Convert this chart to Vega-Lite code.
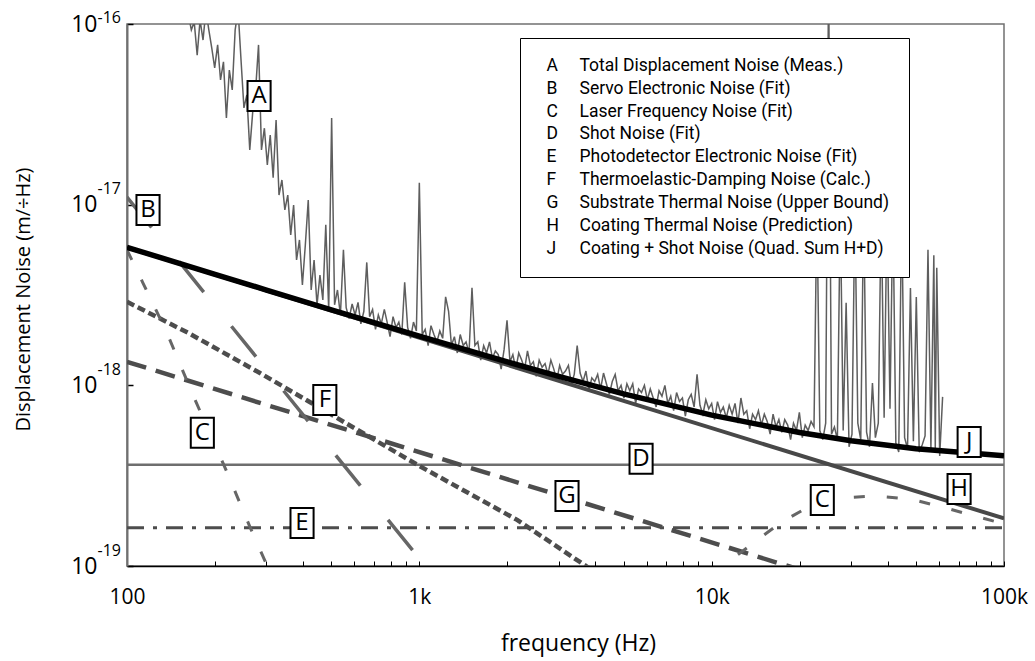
{
"$schema": "https://vega.github.io/schema/vega-lite/v6.json",
"width": 877, "height": 542,
"autosize": "none",
"padding": {"left": 127, "top": 24, "right": 31, "bottom": 95},
"background": "white",
"config": {"view": {"stroke": "#707070", "strokeWidth": 1.5}, "font": "Open Sans"},
"datasets": {
"lines": [
{"s":"J","f":100,"v":5.81e-18},{"s":"J","f":200,"v":4.116e-18},{"s":"J","f":300,"v":3.368e-18},{"s":"J","f":500,"v":2.619e-18},{"s":"J","f":1000,"v":1.87e-18},{"s":"J","f":2000,"v":1.347e-18},{"s":"J","f":3000,"v":1.12e-18},{"s":"J","f":5000,"v":8.97e-19},{"s":"J","f":10000,"v":6.84e-19},{"s":"J","f":20000,"v":5.48e-19},{"s":"J","f":30000,"v":4.94e-19},{"s":"J","f":50000,"v":4.46e-19},{"s":"J","f":100000,"v":4.07e-19},
{"s":"H","f":100,"v":5.8e-18},{"s":"H","f":100000,"v":1.834e-19},
{"s":"D","f":100,"v":3.63e-19},{"s":"D","f":100000,"v":3.63e-19},
{"s":"E","f":100,"v":1.63e-19},{"s":"E","f":100000,"v":1.63e-19},
{"s":"G","f":100,"v":1.35e-18},{"s":"G","f":100000,"v":4.27e-20},
{"s":"B","f":100,"v":1.1e-17},{"s":"B","f":2000,"v":2.75e-20},
{"s":"F","f":100,"v":2.9e-18},{"s":"F","f":162,"v":1.95e-18},{"s":"F","f":285,"v":1.17e-18},{"s":"F","f":1000,"v":3.58e-19},{"s":"F","f":2160,"v":1.8e-19},{"s":"F","f":3750,"v":9.9e-20},{"s":"F","f":5000,"v":7.3e-20},
{"s":"C1","f":100,"v":5.61e-18},{"s":"C1","f":113,"v":3.73e-18},{"s":"C1","f":137,"v":1.95e-18},{"s":"C1","f":168,"v":8.85e-19},{"s":"C1","f":216,"v":3.53e-19},{"s":"C1","f":264,"v":1.63e-19},{"s":"C1","f":301,"v":1.01e-19},{"s":"C1","f":330,"v":7.0e-20},
{"s":"C2","f":8430,"v":6.5e-20},{"s":"C2","f":11290,"v":1.04e-19},{"s":"C2","f":14300,"v":1.39e-19},{"s":"C2","f":17140,"v":1.73e-19},{"s":"C2","f":21720,"v":2.15e-19},{"s":"C2","f":27500,"v":2.38e-19},{"s":"C2","f":36230,"v":2.44e-19},{"s":"C2","f":47720,"v":2.35e-19},{"s":"C2","f":62870,"v":2.1e-19},{"s":"C2","f":79620,"v":1.89e-19},{"s":"C2","f":100000,"v":1.71e-19},
{"s":"A","f":158.5,"v":1.358e-16},{"s":"A","f":162.2,"v":1.122e-16},{"s":"A","f":166.0,"v":9.27e-17},{"s":"A","f":169.8,"v":1.026e-16},{"s":"A","f":173.8,"v":6.73e-17},{"s":"A","f":177.8,"v":1.052e-16},{"s":"A","f":182.0,"v":8.15e-17},{"s":"A","f":186.2,"v":1.194e-16},{"s":"A","f":190.5,"v":9.27e-17},{"s":"A","f":195.0,"v":7.36e-17},
{"s":"A","f":199.5,"v":5.71e-17},{"s":"A","f":204.2,"v":7.66e-17},{"s":"A","f":208.9,"v":4.9e-17},{"s":"A","f":213.8,"v":6.17e-17},{"s":"A","f":218.8,"v":3.02e-17},{"s":"A","f":223.9,"v":5.56e-17},{"s":"A","f":229.1,"v":4.32e-17},{"s":"A","f":234.4,"v":9.27e-17},{"s":"A","f":239.9,"v":1.194e-16},{"s":"A","f":245.5,"v":6.32e-17},
{"s":"A","f":251.2,"v":3.43e-17},{"s":"A","f":257.0,"v":4.05e-17},{"s":"A","f":263.0,"v":2.01e-17},{"s":"A","f":269.2,"v":3.26e-17},{"s":"A","f":275.4,"v":4.32e-17},{"s":"A","f":281.8,"v":7.66e-17},{"s":"A","f":288.4,"v":2.01e-17},{"s":"A","f":295.1,"v":2.65e-17},{"s":"A","f":302.0,"v":1.66e-17},{"s":"A","f":309.0,"v":2.43e-17},
{"s":"A","f":316.2,"v":1.41e-17},{"s":"A","f":323.6,"v":2.94e-17},{"s":"A","f":331.1,"v":1.13e-17},{"s":"A","f":338.8,"v":1.37e-17},{"s":"A","f":346.7,"v":9.35e-18},{"s":"A","f":354.8,"v":1.13e-17},{"s":"A","f":363.1,"v":6.79e-18},{"s":"A","f":371.5,"v":9.95e-18},{"s":"A","f":380.2,"v":4.94e-18},{"s":"A","f":389.0,"v":6.38e-18},
{"s":"A","f":398.1,"v":3.6e-18},{"s":"A","f":407.4,"v":5.98e-18},{"s":"A","f":416.9,"v":1.06e-17},{"s":"A","f":426.6,"v":3.37e-18},{"s":"A","f":436.5,"v":4.94e-18},{"s":"A","f":446.7,"v":2.79e-18},{"s":"A","f":457.1,"v":4.08e-18},{"s":"A","f":467.7,"v":2.97e-18},{"s":"A","f":478.6,"v":7.73e-18},{"s":"A","f":489.8,"v":2.61e-18},
{"s":"A","f":501.2,"v":3.02e-17},{"s":"A","f":512.9,"v":2.79e-18},{"s":"A","f":524.8,"v":3.37e-18},{"s":"A","f":537.0,"v":2.45e-18},
{"s":"A","f":550,"v":5.62e-18},{"s":"A","f":562,"v":2.69e-18},{"s":"A","f":575,"v":2.34e-18},{"s":"A","f":589,"v":2.82e-18},{"s":"A","f":603,"v":2.45e-18},{"s":"A","f":617,"v":2.88e-18},{"s":"A","f":631,"v":2.19e-18},{"s":"A","f":646,"v":2.57e-18},{"s":"A","f":661,"v":4.79e-18},{"s":"A","f":676,"v":2.4e-18},
{"s":"A","f":692,"v":2.63e-18},{"s":"A","f":708,"v":2.04e-18},{"s":"A","f":724,"v":2.45e-18},{"s":"A","f":741,"v":2.19e-18},{"s":"A","f":759,"v":2.63e-18},{"s":"A","f":776,"v":2.24e-18},{"s":"A","f":794,"v":1.86e-18},{"s":"A","f":813,"v":2.4e-18},{"s":"A","f":832,"v":2.09e-18},{"s":"A","f":851,"v":2.24e-18},
{"s":"A","f":871,"v":1.91e-18},{"s":"A","f":891,"v":3.72e-18},{"s":"A","f":912,"v":2.09e-18},{"s":"A","f":933,"v":1.82e-18},{"s":"A","f":955,"v":2.24e-18},{"s":"A","f":977,"v":2.0e-18},{"s":"A","f":1000,"v":1.32e-17},{"s":"A","f":1023,"v":1.91e-18},{"s":"A","f":1047,"v":2.04e-18},{"s":"A","f":1072,"v":1.66e-18},
{"s":"A","f":1096,"v":2.14e-18},{"s":"A","f":1122,"v":1.91e-18},{"s":"A","f":1148,"v":1.74e-18},{"s":"A","f":1175,"v":2.0e-18},{"s":"A","f":1202,"v":1.82e-18},{"s":"A","f":1230,"v":3.09e-18},{"s":"A","f":1259,"v":2.57e-18},{"s":"A","f":1288,"v":1.66e-18},{"s":"A","f":1318,"v":1.86e-18},{"s":"A","f":1349,"v":1.51e-18},
{"s":"A","f":1380,"v":1.91e-18},{"s":"A","f":1413,"v":1.66e-18},{"s":"A","f":1445,"v":1.74e-18},{"s":"A","f":1479,"v":1.51e-18},{"s":"A","f":1514,"v":3.47e-18},{"s":"A","f":1549,"v":1.66e-18},{"s":"A","f":1585,"v":1.74e-18},{"s":"A","f":1622,"v":1.38e-18},{"s":"A","f":1660,"v":1.66e-18},{"s":"A","f":1698,"v":1.51e-18},
{"s":"A","f":1738,"v":1.74e-18},{"s":"A","f":1778,"v":1.41e-18},{"s":"A","f":1820,"v":1.55e-18},{"s":"A","f":1862,"v":1.48e-18},{"s":"A","f":1905,"v":1.23e-18},{"s":"A","f":1950,"v":1.58e-18},{"s":"A","f":1995,"v":2.29e-18},{"s":"A","f":2042,"v":1.35e-18},{"s":"A","f":2089,"v":1.48e-18},{"s":"A","f":2138,"v":1.23e-18},
{"s":"A","f":2188,"v":1.51e-18},{"s":"A","f":2239,"v":1.38e-18},{"s":"A","f":2291,"v":1.23e-18},{"s":"A","f":2344,"v":1.55e-18},{"s":"A","f":2399,"v":1.29e-18},{"s":"A","f":2455,"v":1.35e-18},{"s":"A","f":2512,"v":1.12e-18},{"s":"A","f":2570,"v":1.38e-18},{"s":"A","f":2630,"v":1.26e-18},{"s":"A","f":2692,"v":1.32e-18},
{"s":"A","f":2754,"v":1.15e-18},{"s":"A","f":2818,"v":1.38e-18},{"s":"A","f":2884,"v":1.23e-18},{"s":"A","f":2951,"v":1.07e-18},{"s":"A","f":3020,"v":1.29e-18},{"s":"A","f":3090,"v":1.15e-18},{"s":"A","f":3162,"v":1.2e-18},{"s":"A","f":3236,"v":1.29e-18},{"s":"A","f":3311,"v":1.02e-18},{"s":"A","f":3388,"v":1.15e-18},
{"s":"A","f":3467,"v":1.66e-18},{"s":"A","f":3548,"v":1.17e-18},{"s":"A","f":3631,"v":1.05e-18},{"s":"A","f":3715,"v":1.2e-18},{"s":"A","f":3802,"v":9.33e-19},{"s":"A","f":3890,"v":1.1e-18},{"s":"A","f":3981,"v":1.05e-18},{"s":"A","f":4074,"v":1.15e-18},{"s":"A","f":4169,"v":9.55e-19},{"s":"A","f":4266,"v":1.17e-18},
{"s":"A","f":4365,"v":1.02e-18},{"s":"A","f":4467,"v":8.91e-19},{"s":"A","f":4571,"v":1.05e-18},{"s":"A","f":4677,"v":1.15e-18},{"s":"A","f":4786,"v":9.33e-19},{"s":"A","f":4898,"v":1.0e-18},{"s":"A","f":5012,"v":8.51e-19},{"s":"A","f":5129,"v":1.02e-18},{"s":"A","f":5248,"v":9.33e-19},{"s":"A","f":5370,"v":1.02e-18},
{"s":"A","f":5495,"v":7.94e-19},{"s":"A","f":5623,"v":9.55e-19},{"s":"A","f":5754,"v":9.12e-19},{"s":"A","f":5888,"v":1.0e-18},{"s":"A","f":6026,"v":8.32e-19},{"s":"A","f":6166,"v":9.55e-19},{"s":"A","f":6310,"v":8.51e-19},{"s":"A","f":6457,"v":7.59e-19},{"s":"A","f":6607,"v":9.33e-19},{"s":"A","f":6761,"v":8.71e-19},
{"s":"A","f":6918,"v":1.0e-18},{"s":"A","f":7079,"v":7.94e-19},{"s":"A","f":7244,"v":8.71e-19},{"s":"A","f":7413,"v":7.24e-19},{"s":"A","f":7586,"v":9.12e-19},{"s":"A","f":7762,"v":8.13e-19},{"s":"A","f":7943,"v":8.51e-19},{"s":"A","f":8128,"v":6.76e-19},{"s":"A","f":8318,"v":8.32e-19},{"s":"A","f":8511,"v":8.91e-19},
{"s":"A","f":8710,"v":7.59e-19},{"s":"A","f":8913,"v":1.15e-18},{"s":"A","f":9120,"v":7.76e-19},{"s":"A","f":9333,"v":6.92e-19},{"s":"A","f":9550,"v":8.32e-19},{"s":"A","f":9772,"v":7.41e-19},{"s":"A","f":10000,"v":7.94e-19},{"s":"A","f":10230,"v":6.46e-19},{"s":"A","f":10470,"v":8.13e-19},{"s":"A","f":10720,"v":7.08e-19},
{"s":"A","f":10960,"v":7.59e-19},{"s":"A","f":11220,"v":6.61e-19},{"s":"A","f":11480,"v":7.76e-19},{"s":"A","f":11750,"v":6.92e-19},{"s":"A","f":12020,"v":7.94e-19},{"s":"A","f":12300,"v":6.17e-19},{"s":"A","f":12590,"v":8.51e-19},{"s":"A","f":12880,"v":6.92e-19},{"s":"A","f":13180,"v":7.24e-19},{"s":"A","f":13490,"v":5.75e-19},
{"s":"A","f":13800,"v":6.92e-19},{"s":"A","f":14130,"v":6.46e-19},{"s":"A","f":14450,"v":7.24e-19},{"s":"A","f":14790,"v":6.03e-19},{"s":"A","f":15140,"v":6.92e-19},{"s":"A","f":15490,"v":6.31e-19},{"s":"A","f":15850,"v":5.37e-19},{"s":"A","f":16220,"v":6.92e-19},{"s":"A","f":16600,"v":5.89e-19},{"s":"A","f":16980,"v":6.46e-19},
{"s":"A","f":17380,"v":5.5e-19},{"s":"A","f":17780,"v":6.46e-19},{"s":"A","f":18200,"v":6.03e-19},{"s":"A","f":18620,"v":5.01e-19},{"s":"A","f":19050,"v":6.17e-19},{"s":"A","f":19500,"v":5.62e-19},{"s":"A","f":19950,"v":7.08e-19},{"s":"A","f":20420,"v":5.13e-19},{"s":"A","f":20890,"v":6.03e-19},{"s":"A","f":21380,"v":5.62e-19},
{"s":"A","f":21880,"v":6.31e-19},{"s":"A","f":22390,"v":5.89e-19},
{"s":"A","f":22910,"v":1.0e-17},{"s":"A","f":23440,"v":5.62e-19},{"s":"A","f":23990,"v":5.01e-19},{"s":"A","f":24550,"v":6.17e-19},{"s":"A","f":25120,"v":2.0e-16},{"s":"A","f":25700,"v":5.37e-19},{"s":"A","f":26300,"v":5.89e-19},{"s":"A","f":26920,"v":5.01e-19},{"s":"A","f":27540,"v":1.0e-17},{"s":"A","f":28180,"v":5.62e-19},
{"s":"A","f":28840,"v":2.86e-18},{"s":"A","f":29510,"v":4.57e-19},{"s":"A","f":30200,"v":5.37e-19},{"s":"A","f":30900,"v":1.0e-17},{"s":"A","f":31620,"v":6.17e-19},{"s":"A","f":32360,"v":5.01e-19},{"s":"A","f":33110,"v":1.0e-17},{"s":"A","f":33880,"v":5.5e-19},{"s":"A","f":34670,"v":4.57e-19},{"s":"A","f":35480,"v":1.03e-18},
{"s":"A","f":36310,"v":5.13e-19},{"s":"A","f":37150,"v":6.17e-19},{"s":"A","f":38020,"v":1.0e-17},{"s":"A","f":38900,"v":6.61e-19},{"s":"A","f":39810,"v":1.0e-17},{"s":"A","f":40740,"v":7.41e-19},{"s":"A","f":41690,"v":1.0e-17},{"s":"A","f":42660,"v":4.79e-19},{"s":"A","f":43650,"v":4.27e-19},{"s":"A","f":44670,"v":1.0e-17},
{"s":"A","f":45710,"v":5.13e-19},{"s":"A","f":46770,"v":4.47e-19},{"s":"A","f":47860,"v":3.46e-18},{"s":"A","f":48980,"v":4.9e-19},{"s":"A","f":50120,"v":3.08e-18},{"s":"A","f":51290,"v":4.27e-19},{"s":"A","f":52480,"v":4.68e-19},{"s":"A","f":53700,"v":5.25e-19},{"s":"A","f":54950,"v":5.62e-18},{"s":"A","f":56230,"v":4.47e-19},
{"s":"A","f":57540,"v":5.25e-18},{"s":"A","f":58200,"v":4.5e-19},{"s":"A","f":58880,"v":4.47e-18},{"s":"A","f":60260,"v":4.07e-19},{"s":"A","f":61660,"v":8.63e-19}
],
"labels": [
{"t":"A","f":283,"v":4.0e-17},{"t":"B","f":118,"v":9.35e-18},{"t":"C","f":181,"v":5.46e-19},{"t":"C","f":23900,"v":2.32e-19},{"t":"D","f":5735,"v":3.92e-19},{"t":"E","f":397,"v":1.73e-19},{"t":"F","f":475,"v":8.3e-19},{"t":"G","f":3200,"v":2.44e-19},{"t":"H","f":70200,"v":2.67e-19},{"t":"J","f":76000,"v":4.86e-19}
],
"legend": [
{"t":"A"},{"t":"Total Displacement Noise (Meas.)"},
{"t":"B"},{"t":"Servo Electronic Noise (Fit)"},
{"t":"C"},{"t":"Laser Frequency Noise (Fit)"},
{"t":"D"},{"t":"Shot Noise (Fit)"},
{"t":"E"},{"t":"Photodetector Electronic Noise (Fit)"},
{"t":"F"},{"t":"Thermoelastic-Damping Noise (Calc.)"},
{"t":"G"},{"t":"Substrate Thermal Noise (Upper Bound)"},
{"t":"H"},{"t":"Coating Thermal Noise (Prediction)"},
{"t":"J"},{"t":"Coating + Shot Noise (Quad. Sum H+D)"}
]
},
"layer": [
{
"encoding": {
"x": {"field": "f", "type": "quantitative",
 "scale": {"type": "log", "domain": [100, 100000]},
 "axis": {"values": [100,200,300,400,500,600,700,800,900,1000,2000,3000,4000,5000,6000,7000,8000,9000,10000,20000,30000,40000,50000,60000,70000,80000,90000,100000],
  "labelExpr": "datum.value == 100 ? '100' : datum.value == 1000 ? '1k' : datum.value == 10000 ? '10k' : datum.value == 100000 ? '100k' : ''",
  "title": "frequency (Hz)", "grid": false, "tickSize": -5, "tickColor": "black", "tickWidth": 1,
  "domainColor": "black", "domainWidth": 1.5, "labelFontSize": 21, "labelPadding": 25, "labelColor": "black",
  "labelFlush": false, "labelOverlap": false, "titleFontSize": 23, "titleFontWeight": "normal", "titleColor": "black",
  "titleX": 451, "titleY": 84, "titleBaseline": "alphabetic", "titleAnchor": "middle"}},
"y": {"field": "v", "type": "quantitative",
 "scale": {"type": "log", "domain": [1e-19, 1e-16]},
 "axis": {"values": [1e-19, 1e-18, 1e-17, 1e-16], "labelExpr": "'10'",
  "title": "Displacement Noise (m/÷Hz)", "grid": false, "tickSize": -6, "tickColor": "black", "tickWidth": 1.5,
  "domainColor": "#707070", "domainWidth": 2, "labelFontSize": 23, "labelPadding": 36, "labelColor": "black",
  "labelFlush": false, "labelOverlap": false, "titleFontSize": 20, "titleFontWeight": "normal", "titleColor": "black",
  "titleX": -104, "titleY": 275, "titleBaseline": "middle", "titleAnchor": "middle"}}
},
"layer": [
{"data": {"name": "lines"}, "transform": [{"filter": "datum.s == 'E'"}], "mark": {"type": "line", "clip": true, "color": "#4d4d4d", "strokeWidth": 3, "strokeDash": [17, 9, 4, 9]}},
{"data": {"name": "lines"}, "transform": [{"filter": "datum.s == 'D'"}], "mark": {"type": "line", "clip": true, "color": "#6e6e6e", "strokeWidth": 2.5}},
{"data": {"name": "lines"}, "transform": [{"filter": "datum.s == 'G'"}], "mark": {"type": "line", "clip": true, "color": "#4d4d4d", "strokeWidth": 4.5, "strokeDash": [20, 10]}},
{"data": {"name": "lines"}, "transform": [{"filter": "datum.s == 'F'"}], "mark": {"type": "line", "clip": true, "color": "#4d4d4d", "strokeWidth": 4.5, "strokeDash": [8, 4]}},
{"data": {"name": "lines"}, "transform": [{"filter": "datum.s == 'C1'"}], "mark": {"type": "line", "clip": true, "color": "#666666", "strokeWidth": 3, "strokeDash": [11, 22]}},
{"data": {"name": "lines"}, "transform": [{"filter": "datum.s == 'C2'"}], "mark": {"type": "line", "clip": true, "color": "#666666", "strokeWidth": 3, "strokeDash": [11, 22]}},
{"data": {"name": "lines"}, "transform": [{"filter": "datum.s == 'B'"}], "mark": {"type": "line", "clip": true, "color": "#666666", "strokeWidth": 3.5, "strokeDash": [39, 44]}},
{"data": {"name": "lines"}, "transform": [{"filter": "datum.s == 'A'"}], "mark": {"type": "line", "clip": true, "color": "#5e5e5e", "strokeWidth": 1.5}},
{"data": {"name": "lines"}, "transform": [{"filter": "datum.s == 'H'"}], "mark": {"type": "line", "clip": true, "color": "#484848", "strokeWidth": 4}},
{"data": {"name": "lines"}, "transform": [{"filter": "datum.s == 'J'"}], "mark": {"type": "line", "clip": true, "color": "black", "strokeWidth": 5.5}},
{"data": {"name": "labels"}, "mark": {"type": "point", "shape": "M-0.77,-1H0.77V1H-0.77Z", "size": 900, "filled": true, "fill": "white", "stroke": "black", "strokeWidth": 2, "opacity": 1, "fillOpacity": 1, "strokeOpacity": 1}},
{"data": {"name": "labels"}, "mark": {"type": "text", "fontSize": 24, "font": "Open Sans", "color": "black", "align": "center", "baseline": "middle"}, "encoding": {"text": {"field": "t", "type": "nominal"}}}
]
},
{
"data": {"name": "labels"},
"mark": {"type": "point", "opacity": 0},
"encoding": {
"y": {"field": "v", "type": "quantitative",
 "scale": {"type": "log", "domain": [1e-19, 1e-16]},
 "axis": {"orient": "left", "values": [1e-19, 1e-18, 1e-17, 1e-16],
  "labelExpr": "'-' + round(-log(datum.value) / LN10)",
  "ticks": false, "tickSize": 0, "domain": false, "grid": false, "title": null,
  "labelAlign": "left", "labelBaseline": "middle", "labelPadding": 30,
  "labelOffset": {"condition": {"test": "datum.value > 5e-17", "value": -7}, "value": -16},
  "labelFontSize": 16, "labelColor": "black", "labelFlush": false, "labelOverlap": false}}
}
},
{
"data": {"name": "legend"},
"mark": {"type": "point", "opacity": 0},
"encoding": {
"shape": {"field": "t", "type": "nominal", "sort": null,
 "legend": {"orient": "none", "legendX": 393, "legendY": 14, "title": null, "columns": 2, "direction": "horizontal",
  "columnPadding": 13, "rowPadding": 3.9, "padding": 19, "fillColor": "white", "strokeColor": "black",
  "symbolSize": 0, "symbolOpacity": 0, "symbolStrokeWidth": 0, "labelOffset": -10,
  "labelFont": "Roboto", "labelFontSize": 17.5, "labelColor": "black", "labelLimit": 500, "gridAlign": "each",
  "encode": {"legend": {"update": {"strokeWidth": {"value": 2}}}}}}
}
}
],
"resolve": {"scale": {"y": "independent"}, "axis": {"y": "independent"}}
}
